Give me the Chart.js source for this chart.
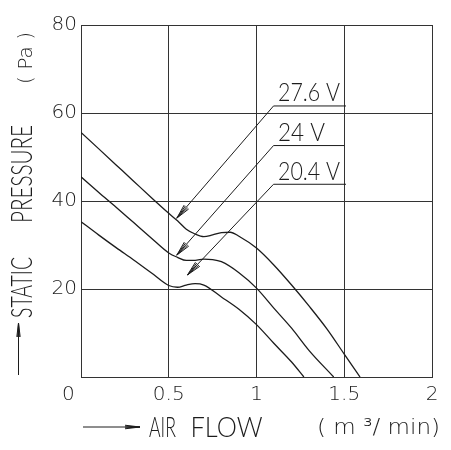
<!DOCTYPE html>
<html>
<head>
<meta charset="utf-8">
<script src="https://cdn.jsdelivr.net/npm/chart.js@4"></script>
<style>
  body { margin: 0; background: #fff; }
  canvas { display: block; }
</style>
</head>
<body>
<canvas id="fanChart" width="451" height="450"></canvas>
<script>
// P-Q curves (flow in m3/min, pressure in Pa)
const flow276 = [0, 0.1, 0.2, 0.3, 0.4, 0.5, 0.55, 0.6, 0.65, 0.7, 0.75, 0.8, 0.85, 0.9, 1.0, 1.1, 1.2, 1.3, 1.4, 1.5, 1.59];
const pres276 = [55.6, 51.9, 48.2, 44.5, 40.8, 37.2, 35.5, 33.6, 32.5, 31.9, 32.3, 32.8, 32.9, 32.0, 29.3, 25.4, 20.9, 16.1, 11.0, 5.2, 0];

const flow24 = [0, 0.1, 0.2, 0.3, 0.4, 0.5, 0.55, 0.6, 0.65, 0.7, 0.75, 0.8, 0.9, 1.0, 1.1, 1.2, 1.3, 1.44];
const pres24 = [45.5, 42.0, 38.6, 35.1, 31.6, 28.2, 27.2, 26.5, 26.5, 26.8, 26.7, 26.2, 23.7, 20.2, 15.6, 11.1, 6.0, 0];

const flow204 = [0, 0.1, 0.2, 0.3, 0.4, 0.5, 0.55, 0.6, 0.65, 0.7, 0.8, 0.9, 1.0, 1.1, 1.2, 1.27];
const pres204 = [35.3, 32.3, 29.4, 26.6, 23.7, 20.8, 20.4, 20.9, 21.2, 20.9, 18.2, 15.4, 11.9, 7.6, 3.4, 0];

// voltage callouts: underline right end, underline left end, arrow tip
const voltLabels = ["27.6 V", "24 V", "20.4 V"];
const leaderFlow = [[1.51, 1.097, 0.546], [1.50, 1.097, 0.546], [1.51, 1.097, 0.607]];
const leaderPres = [[61.6, 61.6, 36.1], [52.6, 52.6, 27.7], [43.8, 43.8, 23.2]];

const flowTicks = [0, 0.5, 1, 1.5, 2];
const presTicks = [20, 40, 60, 80];

const ink = "#1c1c1c";
const roundFont = '"DejaVu Sans", sans-serif';
const narrowFont = 'Lato, "Liberation Sans", sans-serif';

function pts(xs, ys) {
  return xs.map((x, i) => ({ x: x, y: ys[i] }));
}

// draw text squeezed or stretched to a given width (CAD style lettering)
function fitText(ctx, text, x, y, font, width) {
  ctx.save();
  ctx.font = font;
  ctx.textBaseline = "alphabetic";
  ctx.textAlign = "left";
  const w = ctx.measureText(text).width;
  ctx.translate(x, y);
  ctx.scale(width / w, 1);
  ctx.fillText(text, 0, 0);
  ctx.restore();
}

function arrowHead(ctx, x0, y0, x1, y1, len, spread) {
  const ang = Math.atan2(y1 - y0, x1 - x0);
  [-spread, -spread / 2, spread / 2, spread].forEach((d) => {
    ctx.beginPath();
    ctx.moveTo(x1, y1);
    ctx.lineTo(x1 - len * Math.cos(ang + d), y1 - len * Math.sin(ang + d));
    ctx.stroke();
  });
}

const extras = {
  id: "extras",
  afterDraw(chart) {
    const { ctx, chartArea: a, scales } = chart;
    const x = scales.x, y = scales.y;
    ctx.save();
    ctx.strokeStyle = ink;
    ctx.fillStyle = ink;
    ctx.lineWidth = 1;

    const labelWidths = [62, 47, 62];
    voltLabels.forEach((label, i) => {
      const lx = x.getPixelForValue(leaderFlow[i][1]);
      const ly = y.getPixelForValue(leaderPres[i][1]);
      const tx = x.getPixelForValue(leaderFlow[i][2]);
      const ty = y.getPixelForValue(leaderPres[i][2]);
      arrowHead(ctx, lx, ly, tx, ty, 15, 0.2);
      fitText(ctx, label, lx + 4.5, ly - 4.5, "300 25px " + narrowFont, labelWidths[i]);
    });

    // y axis title, read bottom to top
    ctx.beginPath();
    ctx.moveTo(18.5, a.bottom - 2);
    ctx.lineTo(18.5, a.bottom - 54);
    ctx.stroke();
    arrowHead(ctx, 18.5, a.bottom, 18.5, a.bottom - 54, 14, 0.12);
    ctx.save();
    ctx.translate(31.5, 318);
    ctx.rotate(-Math.PI / 2);
    fitText(ctx, "STATIC", 0, 0, "300 30px " + narrowFont, 61);
    fitText(ctx, "PRESSURE", 95, 0, "300 30px " + narrowFont, 98);
    fitText(ctx, "( Pa )", 234, 0, "200 20px " + roundFont, 52);
    ctx.restore();

    // x axis title
    const ay = a.bottom + 50;
    ctx.beginPath();
    ctx.moveTo(a.left + 2, ay);
    ctx.lineTo(a.left + 59, ay);
    ctx.stroke();
    arrowHead(ctx, a.left, ay, a.left + 59, ay, 15, 0.12);
    fitText(ctx, "AIR", 149, 436.5, "300 28px " + narrowFont, 27);
    fitText(ctx, "FLOW", 190.5, 436.5, "300 28px " + narrowFont, 72);
    fitText(ctx, "( m \u00b3/ min)", 317, 434, "200 21px " + roundFont, 123);
    ctx.restore();
  }
};

const curveStyle = {
  borderColor: ink,
  borderWidth: 1.3,
  pointRadius: 0,
  fill: false,
  cubicInterpolationMode: "monotone"
};

const leaderSets = voltLabels.map((label, i) => ({
  label: label + " leader",
  data: pts(leaderFlow[i], leaderPres[i]),
  borderColor: ink,
  borderWidth: 1,
  pointRadius: 0,
  tension: 0
}));

new Chart(document.getElementById("fanChart").getContext("2d"), {
  type: "line",
  data: {
    datasets: [
      Object.assign({ label: "27.6 V", data: pts(flow276, pres276) }, curveStyle),
      Object.assign({ label: "24 V", data: pts(flow24, pres24) }, curveStyle),
      Object.assign({ label: "20.4 V", data: pts(flow204, pres204) }, curveStyle)
    ].concat(leaderSets)
  },
  options: {
    responsive: false,
    animation: false,
    layout: { padding: { top: 25, right: 19, left: 0, bottom: 0 } },
    plugins: { legend: { display: false }, tooltip: { enabled: false } },
    scales: {
      x: {
        type: "linear",
        min: 0,
        max: 2,
        afterFit: (s) => { s.height = 73; },
        afterBuildTicks: (s) => { s.ticks = flowTicks.map((v) => ({ value: v })); },
        grid: { color: "#333", lineWidth: 1, drawTicks: false },
        border: { color: "#333", width: 1 },
        ticks: {
          padding: 6,
          color: ink,
          font: { family: roundFont, size: 20, weight: 200 },
          maxRotation: 0,
          callback: (v) => (v === 0 ? "0    " : String(v))
        }
      },
      y: {
        min: 0,
        max: 80,
        afterFit: (s) => { s.width = 81; },
        afterBuildTicks: (s) => { s.ticks = presTicks.map((v) => ({ value: v })); },
        grid: { color: "#333", lineWidth: 1, drawTicks: false },
        border: { color: "#333", width: 1 },
        ticks: {
          padding: 4,
          color: ink,
          font: { family: roundFont, size: 20, weight: 200 },
          callback: (v) => String(v)
        }
      }
    }
  },
  plugins: [extras]
});
</script>
</body>
</html>
